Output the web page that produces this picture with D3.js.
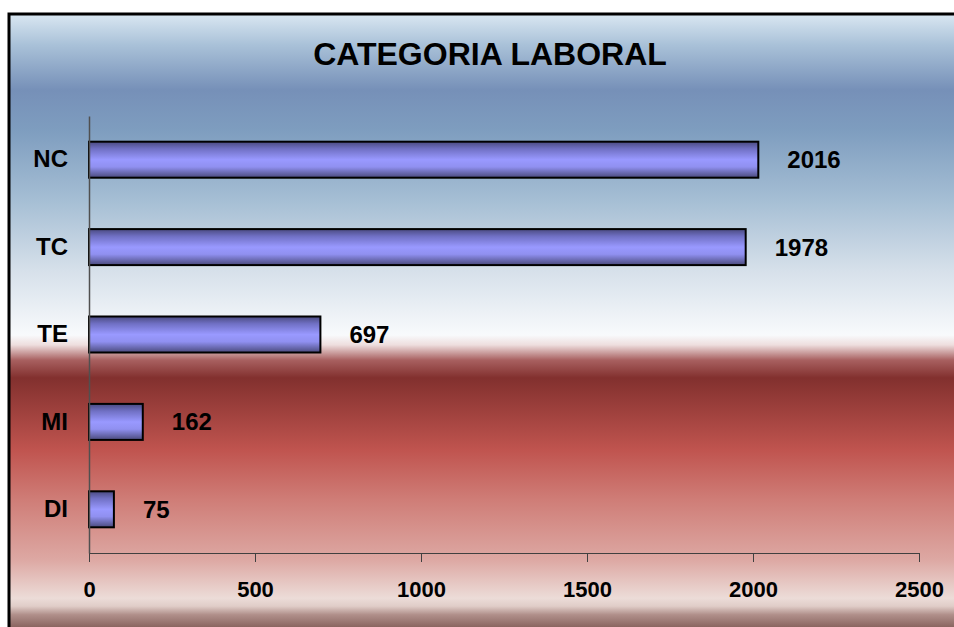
<!DOCTYPE html>
<html>
<head>
<meta charset="utf-8">
<script src="https://cdn.jsdelivr.net/npm/d3@7"></script>
<style>
  body { margin: 0; background: #fff; overflow: hidden; }
  text { font-family: "Liberation Sans", Arial, sans-serif; font-weight: bold; fill: #000; }
</style>
</head>
<body>
<div id="chart"></div>
<script>
// data
const categories = ["NC", "TC", "TE", "MI", "DI"];
const values = [2016, 1978, 697, 162, 75];
const xTicks = [0, 500, 1000, 1500, 2000, 2500];
const title = "CATEGORIA LABORAL";

const width = 954;
const height = 627;
const plot = { left: 89, right: 919, top: 116, bottom: 553 };

const svg = d3.select("#chart")
    .append("svg")
    .attr("width", width)
    .attr("height", height)
    .style("display", "block");

const defs = svg.append("defs");

// background gradient, blue sky on top and red below
const bg = defs.append("linearGradient")
    .attr("id", "bg")
    .attr("gradientUnits", "userSpaceOnUse")
    .attr("x1", 0).attr("y1", 15)
    .attr("x2", 0).attr("y2", 627);
[
    [0, "#d8e6f1"], [0.049, "#a9c1d8"], [0.1225, "#7690b8"], [0.188, "#7e9dbf"],
    [0.302, "#a5bed4"], [0.417, "#d6e0ea"], [0.523, "#f8fafc"], [0.539, "#eedede"],
    [0.564, "#a86060"], [0.593, "#82302e"], [0.711, "#c0544f"], [0.792, "#cf7d77"],
    [0.89, "#dda8a3"], [0.953, "#ecdcd8"], [0.966, "#e0cdc8"], [0.98, "#b08f8a"], [1, "#8a6560"]
].forEach(s => bg.append("stop").attr("offset", s[0]).attr("stop-color", s[1]));

// bar gradient
const barGrad = defs.append("linearGradient")
    .attr("id", "bar")
    .attr("x1", 0).attr("y1", 0)
    .attr("x2", 0).attr("y2", 1);
[
    [0, "#4a4a80"], [0.2, "#7070c4"], [0.5, "#9999ff"], [0.7, "#9090f0"], [1, "#4a4a7c"]
].forEach(s => barGrad.append("stop").attr("offset", s[0]).attr("stop-color", s[1]));

svg.append("rect")
    .attr("x", 9).attr("y", 14)
    .attr("width", 1100).attr("height", 700)
    .style("fill", "url(#bg)")
    .style("stroke", "#000")
    .style("stroke-width", 3);

svg.append("text")
    .attr("x", 490)
    .attr("y", 65)
    .attr("text-anchor", "middle")
    .style("font-size", "32px")
    .text(title);

// scales
const x = d3.scaleLinear()
    .domain([0, 2500])
    .range([plot.left, plot.right]);

const y = d3.scaleBand()
    .domain(categories)
    .range([plot.top, plot.bottom])
    .paddingInner(0.588)
    .paddingOuter(0.294);

// bars
svg.selectAll("rect.bar")
    .data(values)
    .enter()
    .append("rect")
    .attr("class", "bar")
    .attr("x", x(0))
    .attr("y", (d, i) => y(categories[i]))
    .attr("width", d => x(d) - x(0))
    .attr("height", y.bandwidth())
    .style("fill", "url(#bar)")
    .style("stroke", "#000")
    .style("stroke-width", 2);

// value labels
svg.selectAll("text.value")
    .data(values)
    .enter()
    .append("text")
    .attr("class", "value")
    .attr("x", d => x(d) + 29)
    .attr("y", (d, i) => y(categories[i]) + y.bandwidth() / 2)
    .attr("dy", "0.35em")
    .style("font-size", "24px")
    .text(d => d);

// x axis
const xAxis = svg.append("g")
    .attr("transform", `translate(0,${plot.bottom})`)
    .call(d3.axisBottom(x).tickValues(xTicks).tickFormat(d3.format("d"))
        .tickSize(9).tickSizeOuter(0).tickPadding(19));
xAxis.select(".domain").style("stroke", "#404040");
xAxis.selectAll(".tick line").style("stroke", "#404040");
xAxis.selectAll("text")
    .style("font-size", "22px")
    .style("font-family", "'Liberation Sans', Arial, sans-serif")
    .style("font-weight", "bold")
    .style("fill", "#000");

// y axis
const yAxis = svg.append("g")
    .attr("transform", `translate(${plot.left},0)`)
    .call(d3.axisLeft(y).tickSize(0).tickPadding(21));
yAxis.select(".domain").style("stroke", "#505050").style("stroke-width", 1.5);
yAxis.selectAll("text")
    .style("font-size", "24px")
    .style("font-family", "'Liberation Sans', Arial, sans-serif")
    .style("font-weight", "bold")
    .style("fill", "#000");
</script>
</body>
</html>
